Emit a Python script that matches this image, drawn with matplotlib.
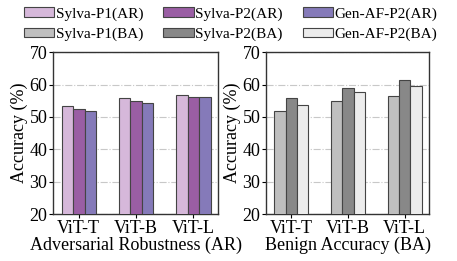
import numpy as np
from matplotlib import pyplot as plt

plt.rcParams['font.family'] = ['Liberation Serif', 'DejaVu Serif']
plt.rcParams['font.size'] = 13

models = ['ViT-T', 'ViT-B', 'ViT-L']
ar_labels = ['Sylva-P1(AR)', 'Sylva-P2(AR)', 'Gen-AF-P2(AR)']
ba_labels = ['Sylva-P1(BA)', 'Sylva-P2(BA)', 'Gen-AF-P2(BA)']
ar_p1 = [53.3, 55.7, 56.8]
ar_p2 = [52.3, 54.9, 56.3]
ar_gen = [51.8, 54.4, 56.1]
ba_p1 = [51.9, 54.9, 56.4]
ba_p2 = [55.7, 58.9, 61.3]
ba_gen = [53.6, 57.7, 59.7]
ar_colors = ['#d6b8da', '#9a5ea4', '#857ab9']
ba_colors = ['#bfbfbf', '#888888', '#ececec']

fig = plt.figure(figsize=(4.57, 2.61), dpi=100)
ax1 = fig.add_axes([0.116, 0.18, 0.361, 0.62])
ax2 = fig.add_axes([0.582, 0.18, 0.357, 0.62])

x = np.arange(len(models))
w = 0.2
handles = []
for ax, series, colors, labels, xlabel in [
        (ax1, [ar_p1, ar_p2, ar_gen], ar_colors, ar_labels, 'Adversarial Robustness (AR)'),
        (ax2, [ba_p1, ba_p2, ba_gen], ba_colors, ba_labels, 'Benign Accuracy (BA)')]:
    hs = []
    for i, (vals, c, lab) in enumerate(zip(series, colors, labels)):
        h = ax.bar(x + (i - 1) * w, vals, w, color=c, edgecolor='#444444',
                   linewidth=0.8, label=lab, zorder=3)
        hs.append(h)
    handles.append(hs)
    ax.set_ylim(20, 70)
    ax.set_xlim(-0.45, 2.43)
    ax.set_yticks([20, 30, 40, 50, 60, 70])
    ax.set_xticks(x)
    ax.set_xticklabels(models)
    ax.yaxis.grid(True, ls='-.', color='#c8c8c8', lw=0.8, zorder=0)
    ax.set_ylabel('Accuracy (%)', labelpad=1)
    ax.set_xlabel(xlabel, labelpad=0)
    ax.tick_params(axis='both', length=3, pad=1)
    for s in ax.spines.values():
        s.set_linewidth(1.0)
        s.set_color('#333333')

order = [handles[0][0], handles[1][0], handles[0][1], handles[1][1], handles[0][2], handles[1][2]]
fig.legend(handles=order, labels=[h.get_label() for h in order], ncol=3,
           loc='upper center', bbox_to_anchor=(0.505, 1.025), frameon=False,
           fontsize=11, handlelength=2.0, handleheight=0.6, handletextpad=0.1,
           columnspacing=1.3, labelspacing=0.45)

fig.savefig('out.png', dpi=100)
